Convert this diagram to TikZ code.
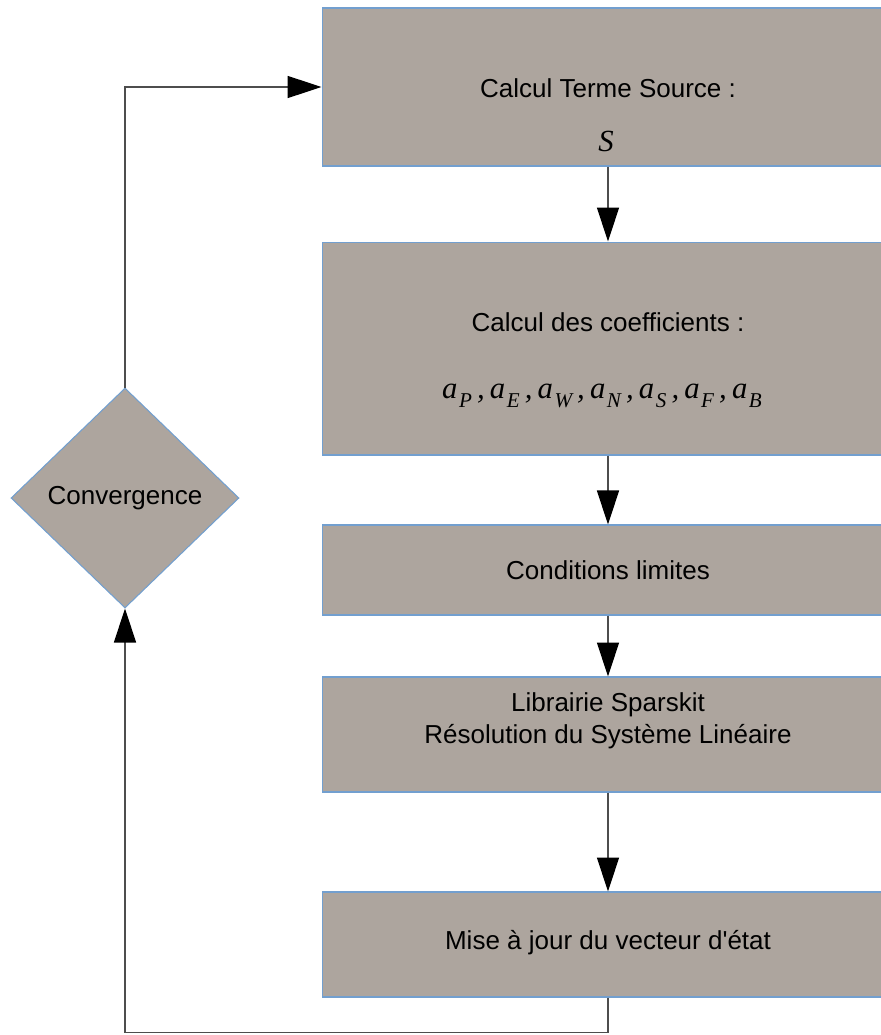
\documentclass[tikz,border=0pt]{standalone}
\usepackage{fontspec}
\setmainfont{Liberation Sans}[Ligatures=TeXOff]
\newfontfamily\symserif{Liberation Serif}
\usepackage{tikz}
\usetikzlibrary{
  arrows.meta,
  shapes.geometric
}
\definecolor{BoxGray}{HTML}{ADA59E}
\definecolor{BoxEdge}{HTML}{729FCF}
\definecolor{LineGray}{HTML}{4D4D4D}

\newcommand{\coef}[1]{a\kern0.05em\raisebox{-0.3em}{\fontsize{12}{14}\selectfont #1}}

\tikzset{
  stepbox/.style={draw=BoxEdge,fill=BoxGray,line width=0.6pt,
                  minimum width=11.44cm,inner sep=0pt},
  decision/.style={diamond,draw=BoxEdge,fill=BoxGray,line width=0.6pt,aspect=1,
                   minimum width=4.56cm,minimum height=4.4cm,inner sep=0pt},
  boxtext/.style={font=\fontsize{14.8}{18}\selectfont,align=center},
  mathtext/.style={font=\symserif\itshape\fontsize{17.5}{21}\selectfont},
  flow/.style={draw=LineGray,line width=0.85pt,
               -{Triangle[length=0.68cm,width=0.44cm,color=black]}}
}

\begin{document}
\begin{tikzpicture}[x=0.02cm,y=-0.02cm]
  \useasboundingbox (0,0) rectangle (881,1035);
  \clip (0,0) rectangle (881,1035);

  % boxes of the solver loop
  \node[stepbox,minimum height=3.16cm] (source) at (608,87) {};
  \node[boxtext] (sourcetitle) at (608,88) {Calcul Terme Source :};
  \node[mathtext] (sourcesym) at (606,141) {S};

  \node[stepbox,minimum height=4.26cm] (coeffs) at (608,348.5) {};
  \node[boxtext] (coeffstitle) at (608,322) {Calcul des coefficients :};
  \node[mathtext] (coeffsym) at (602,396)
    {\coef{P}\,,\,\coef{E}\,,\,\coef{W}\,,\,\coef{N}\,,\,\coef{S}\,,\,\coef{F}\,,\,\coef{B}};

  \node[stepbox,minimum height=1.8cm] (limits) at (608,570) {};
  \node[boxtext] (limitstitle) at (608,570) {Conditions limites};

  \node[stepbox,minimum height=2.3cm] (solver) at (608,734.5) {};
  \node[boxtext] (solvertitle) at (608,721)
    {Librairie Sparskit\\Résolution du Système Linéaire};

  \node[stepbox,minimum height=2.1cm] (update) at (608,944.5) {};
  \node[boxtext] (updatetitle) at (608,943) {Mise à jour du vecteur d'état};

  \node[decision] (conv) at (125,498) {};
  \node[boxtext] (convtitle) at (conv.center) {Convergence};

  % connectors
  \draw[flow] (source.south) -- (coeffs.north);
  \draw[flow] (coeffs.south) -- (limits.north);
  \draw[flow] (limits.south) -- (solver.north);
  \draw[flow] (solver.south) -- (update.north);
  \draw[flow] (update.south) -- ++(0,35) -| (conv.south);
  \draw[flow] (conv.north) |- (source.west);
\end{tikzpicture}
\end{document}
